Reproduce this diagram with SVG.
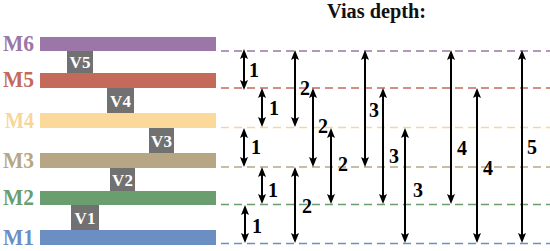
<svg xmlns="http://www.w3.org/2000/svg" width="550" height="251" viewBox="0 0 550 251">
<style>
text{font-family:"Liberation Serif","Times New Roman","DejaVu Serif",serif;font-weight:bold}
.ml{font-size:24px}
.vt{font-size:17px;fill:#fff;text-anchor:middle}
.via{fill:#717171}
.dl{stroke-width:1.6;stroke-dasharray:8 5;fill:none}
.ar{stroke:#000;stroke-width:2;fill:none;marker-start:url(#ah);marker-end:url(#ah)}
.nl{font-size:20px;fill:#000}
</style>
<defs>
<marker id="ah" markerUnits="userSpaceOnUse" markerWidth="10" markerHeight="8" refX="7" refY="4" orient="auto-start-reverse" viewBox="0 0 10 8">
<path d="M0,0 L10,4 L0,8 L2,4 z" fill="#000"/>
</marker>
</defs>
<rect width="550" height="251" fill="#fff"/>
<text x="327" y="18" font-size="20" fill="#111" textLength="99" lengthAdjust="spacingAndGlyphs">Vias depth:</text>

<g id="M6"><rect x="40" y="37" width="176" height="14" fill="#9a77a6"/><text class="ml" x="3" y="50.5" fill="#9a77a6" textLength="31" lengthAdjust="spacingAndGlyphs">M6</text></g>
<g id="M5"><rect x="40" y="73" width="176" height="15" fill="#c46a5a"/><text class="ml" x="3" y="87" fill="#c46a5a" textLength="31" lengthAdjust="spacingAndGlyphs">M5</text></g>
<g id="M4"><rect x="40" y="113" width="176" height="15" fill="#fad99b"/><text class="ml" x="5" y="127.5" fill="#f7d698" textLength="29" lengthAdjust="spacingAndGlyphs">M4</text></g>
<g id="M3"><rect x="40" y="153" width="176" height="15" fill="#b6a684"/><text class="ml" x="3" y="167.5" fill="#b6a684" textLength="31" lengthAdjust="spacingAndGlyphs">M3</text></g>
<g id="M2"><rect x="40" y="191" width="176" height="14" fill="#6a9e6f"/><text class="ml" x="3" y="205" fill="#6a9e6f" textLength="31" lengthAdjust="spacingAndGlyphs">M2</text></g>
<g id="M1"><rect x="40" y="230" width="176" height="15" fill="#6b8fc2"/><text class="ml" x="3" y="245" fill="#6b8fc2" textLength="31" lengthAdjust="spacingAndGlyphs">M1</text></g>

<g id="V5"><rect class="via" x="67" y="51" width="26" height="22"/><text class="vt" x="80" y="68">V5</text></g>
<g id="V4"><rect class="via" x="107" y="88" width="27" height="25"/><text class="vt" x="120.5" y="107">V4</text></g>
<g id="V3"><rect class="via" x="149" y="128" width="25" height="25"/><text class="vt" x="161.5" y="147">V3</text></g>
<g id="V2"><rect class="via" x="110" y="168" width="25" height="23"/><text class="vt" x="122.5" y="186">V2</text></g>
<g id="V1"><rect class="via" x="71" y="205" width="28" height="25"/><text class="vt" x="85" y="224">V1</text></g>

<g id="levels">
<line class="dl" x1="221" y1="51" x2="550" y2="51" stroke="#9a77a6"/>
<line class="dl" x1="221" y1="88" x2="550" y2="88" stroke="#c46a5a"/>
<line class="dl" x1="221" y1="127.5" x2="550" y2="127.5" stroke="#f7d698"/>
<line class="dl" x1="221" y1="167" x2="550" y2="167" stroke="#b6a684"/>
<line class="dl" x1="221" y1="204.5" x2="550" y2="204.5" stroke="#6a9e6f"/>
<line class="dl" x1="221" y1="243.5" x2="550" y2="243.5" stroke="#6b8fc2"/>
</g>

<g id="connectors">
<line class="ar" x1="244" y1="52" x2="244" y2="87"/>
<line class="ar" x1="244" y1="131" x2="244" y2="164"/>
<line class="ar" x1="245" y1="208" x2="245" y2="240"/>
<line class="ar" x1="262" y1="91" x2="262" y2="124"/>
<line class="ar" x1="262" y1="170" x2="262" y2="201"/>
<line class="ar" x1="295" y1="53" x2="295" y2="124"/>
<line class="ar" x1="295" y1="170" x2="295" y2="240"/>
<line class="ar" x1="313" y1="91" x2="313" y2="164"/>
<line class="ar" x1="331" y1="131" x2="331" y2="201"/>
<line class="ar" x1="365" y1="53" x2="365" y2="164"/>
<line class="ar" x1="383" y1="91" x2="383" y2="201"/>
<line class="ar" x1="405" y1="131" x2="405" y2="240"/>
<line class="ar" x1="451" y1="53" x2="451" y2="201"/>
<line class="ar" x1="477" y1="91" x2="477" y2="240"/>
<line class="ar" x1="522" y1="53" x2="522" y2="240"/>
</g>

<g id="labels">
<text class="nl" x="249" y="77">1</text>
<text class="nl" x="251" y="154">1</text>
<text class="nl" x="252" y="233">1</text>
<text class="nl" x="269" y="115">1</text>
<text class="nl" x="268" y="197">1</text>
<text class="nl" x="300" y="95">2</text>
<text class="nl" x="302" y="213">2</text>
<text class="nl" x="318" y="133">2</text>
<text class="nl" x="338" y="171">2</text>
<text class="nl" x="369" y="117">3</text>
<text class="nl" x="389" y="163">3</text>
<text class="nl" x="413" y="197">3</text>
<text class="nl" x="457" y="155">4</text>
<text class="nl" x="483" y="175">4</text>
<text class="nl" x="527" y="154">5</text>
</g>
</svg>
